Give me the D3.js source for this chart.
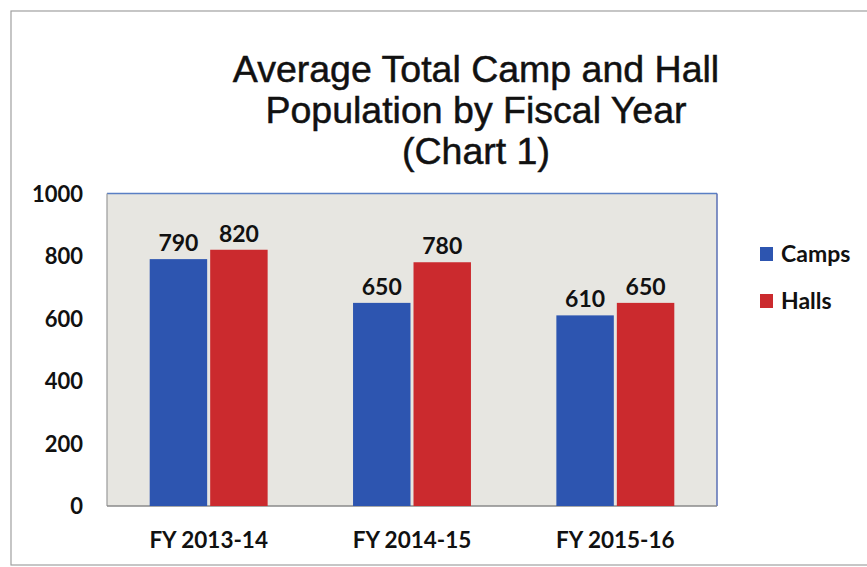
<!DOCTYPE html>
<html><head><meta charset="utf-8">
<script src="https://cdn.jsdelivr.net/npm/d3@7"></script>
<style>body{margin:0;background:#fff}svg{display:block}</style>
</head><body>
<script>
const categories = ["FY 2013-14", "FY 2014-15", "FY 2015-16"];
const seriesNames = ["Camps", "Halls"];
const camps = [790, 650, 610];
const halls = [820, 780, 650];
const yTicks = [0, 200, 400, 600, 800, 1000];
const titleLines = ["Average Total Camp and Hall", "Population by Fiscal Year", "(Chart 1)"];
const colors = ["#2d55b0", "#cb2a2e"];

const W = 867, H = 567;
const svg = d3.select("body").append("svg").attr("width", W).attr("height", H);

// outer frame
svg.append("rect").attr("x", 11).attr("y", 11).attr("width", W).attr("height", 554)
  .attr("fill", "#fff").attr("stroke", "#a0a0a0").attr("stroke-width", 1.2);

const plot = {l: 107, r: 717, t: 193.5, b: 506};
const x0 = d3.scaleBand().domain(categories).range([plot.l, plot.r]).paddingInner(0.42).paddingOuter(0.21);
const x1 = d3.scaleBand().domain(seriesNames).range([0, x0.bandwidth()]).paddingInner(0.05);
const y = d3.scaleLinear().domain([0, 1000]).range([plot.b, plot.t]);

svg.append("rect").attr("x", plot.l).attr("y", plot.t).attr("width", plot.r - plot.l).attr("height", plot.b - plot.t)
  .attr("fill", "#e7e6e1");
// borders
svg.append("line").attr("x1", plot.l).attr("x2", plot.r).attr("y1", plot.t).attr("y2", plot.t).attr("stroke", "#5a7fc4").attr("stroke-width", 1.5);
svg.append("line").attr("x1", plot.r).attr("x2", plot.r).attr("y1", plot.t).attr("y2", plot.b).attr("stroke", "#5a6fb4").attr("stroke-width", 1.5);
svg.append("line").attr("x1", plot.l).attr("x2", plot.l).attr("y1", plot.t).attr("y2", plot.b).attr("stroke", "#9a9a9a").attr("stroke-width", 1.2);
svg.append("line").attr("x1", plot.l).attr("x2", plot.r).attr("y1", plot.b).attr("y2", plot.b).attr("stroke", "#8a8a8a").attr("stroke-width", 1.5);

const data = categories.map((c, i) => ({cat: c, vals: [camps[i], halls[i]]}));
const g = svg.selectAll("g.grp").data(data).enter().append("g").attr("class", "grp")
  .attr("transform", d => `translate(${x0(d.cat)},0)`);
g.selectAll("rect").data(d => d.vals.map((v, j) => ({v, s: seriesNames[j], j})))
  .enter().append("rect")
  .attr("x", d => x1(d.s)).attr("width", x1.bandwidth())
  .attr("y", d => y(d.v)).attr("height", d => plot.b - y(d.v))
  .attr("fill", d => colors[d.j]);
g.selectAll("text").data(d => d.vals.map((v, j) => ({v, s: seriesNames[j]})))
  .enter().append("text")
  .attr("x", d => x1(d.s) + x1.bandwidth() / 2).attr("y", d => y(d.v) - 8)
  .attr("text-anchor", "middle").attr("font-family", "Lato, 'Open Sans', sans-serif")
  .attr("font-weight", "bold").attr("font-size", 23).attr("fill", "#111").text(d => d.v);

// y axis
const yAxis = d3.axisLeft(y).tickValues(yTicks).tickFormat(d3.format("d")).tickSize(0).tickPadding(0);
const ya = svg.append("g").attr("transform", `translate(83,0)`).call(yAxis);
ya.select(".domain").remove();
ya.selectAll("text").attr("font-family", "Lato, 'Open Sans', sans-serif").attr("font-weight", "bold")
  .attr("font-size", 22).attr("fill", "#111").attr("dy", "0.36em");

// x axis
const xAxis = d3.axisBottom(x0).tickSize(0).tickPadding(0);
const xa = svg.append("g").attr("transform", `translate(0,${plot.b})`).call(xAxis);
xa.select(".domain").remove();
xa.selectAll("text").attr("font-family", "Lato, 'Open Sans', sans-serif").attr("font-weight", "bold")
  .attr("font-size", 22.5).attr("fill", "#111").attr("dy", null).attr("y", 42);

// title
svg.append("text").attr("x", 476).attr("y", 82).attr("text-anchor", "middle")
  .attr("font-family", "'Liberation Sans', Arial, sans-serif").attr("font-size", 37.5).attr("fill", "#111")
  .attr("stroke", "#111").attr("stroke-width", 0.5)
  .selectAll("tspan").data(titleLines).enter().append("tspan")
  .attr("x", 476).attr("dy", (d, i) => i === 0 ? 0 : 41).text(d => d);

// legend
const lg = svg.append("g").attr("transform", "translate(760,247)");
seriesNames.forEach((s, i) => {
  lg.append("rect").attr("x", 0).attr("y", i * 47).attr("width", 13).attr("height", 14).attr("fill", colors[i]);
  lg.append("text").attr("x", 21).attr("y", i * 47 + 7).attr("dy", "0.36em")
    .attr("font-family", "Lato, 'Open Sans', sans-serif").attr("font-weight", "bold")
    .attr("font-size", 23).attr("fill", "#111").text(s);
});
</script>
</body></html>
